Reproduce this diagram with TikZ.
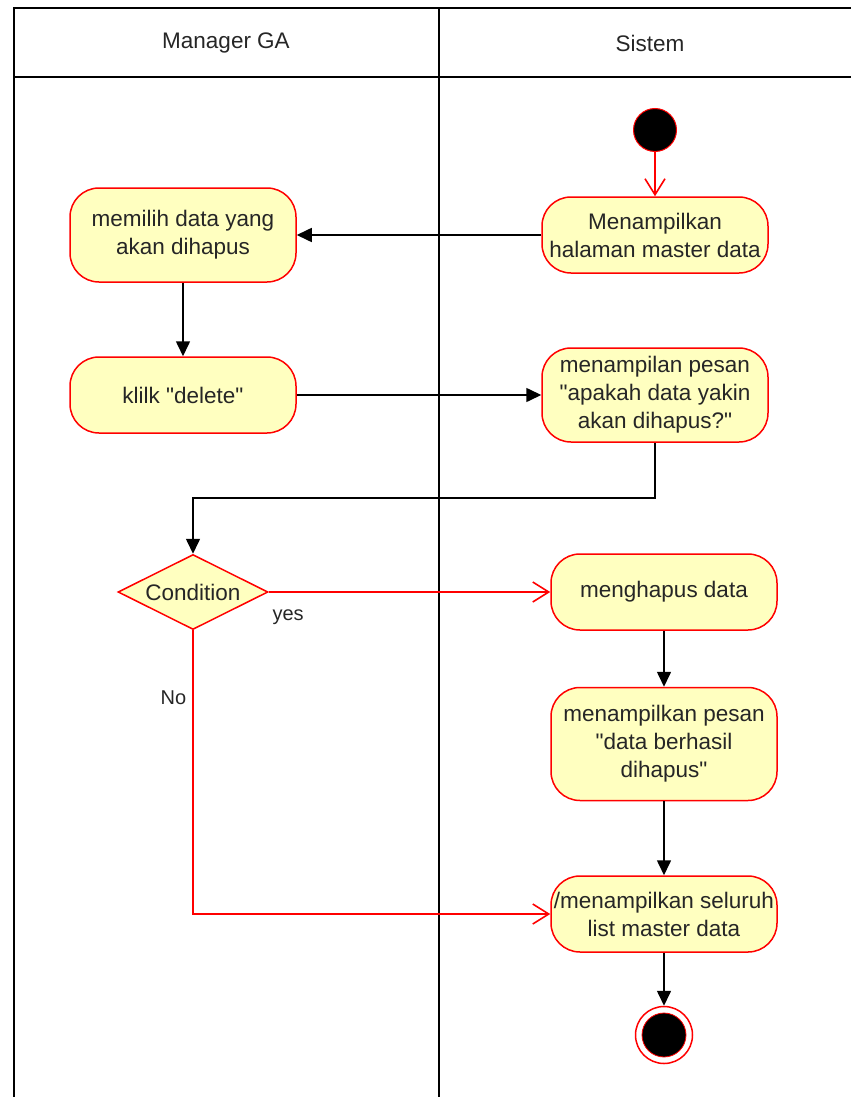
\documentclass[tikz,border=0pt]{standalone}
\usepackage{fontspec}
\setmainfont{Liberation Sans}
\usetikzlibrary{arrows.meta,shapes.geometric}
\definecolor{actfill}{HTML}{FFFFC0}
\definecolor{txt}{HTML}{262626}
\tikzset{
  act/.style={draw=red, fill=actfill, line width=1.5pt, rounded corners=29pt,
    minimum width=226pt, minimum height=76pt, align=center, inner sep=0pt,
    text=txt, font=\fontsize{22.5}{28}\selectfont},
  cond/.style={diamond, aspect=2, draw=red, fill=actfill, line width=1.5pt,
    minimum width=150pt, minimum height=75pt, inner sep=0pt,
    text=txt, font=\fontsize{22.5}{28}\selectfont},
  blk/.style={draw=black, line width=1.6pt, -{Triangle[length=15pt,width=14pt]}},
  rd/.style={draw=red, line width=1.6pt, -{Straight Barb[length=16pt,width=20pt]}},
  lbl/.style={text=txt, font=\fontsize{20}{24}\selectfont, inner sep=2pt},
  lane/.style={draw=black, line width=1.6pt}
}
\begin{document}
\begin{tikzpicture}[x=1pt,y=-1pt]
\useasboundingbox (0,0) rectangle (851,1097);
%swimlanes
\draw[lane] (14,1097) -- (14,8) -- (851,8);
\draw[lane] (14,77) -- (851,77);
\draw[lane] (439,8) -- (439,1097);
\node[text=txt, font=\fontsize{22.5}{28}\selectfont] (laneA) at (226,43) {Manager GA};
\node[text=txt, font=\fontsize{22.5}{28}\selectfont] (laneB) at (650,43) {Sistem};
%start
\node[circle, draw=red, fill=black, line width=1pt, minimum size=43pt, inner sep=0pt] (start) at (655,130) {};
%actions
\node[act] (tampil) at (655,235) {Menampilkan\\halaman master data};
\node[act, minimum height=94pt] (pilih) at (183,235) {memilih data yang\\akan dihapus};
\node[act] (klik) at (183,395) {klilk \textquotedbl delete\textquotedbl};
\node[act, minimum height=94pt] (pesan) at (655,395) {menampilan pesan\\\textquotedbl apakah data yakin\\akan dihapus?\textquotedbl};
\node[cond] (kond) at (193,592) {Condition};
\node[act] (hapus) at (664,592) {menghapus data};
\node[act, minimum height=113pt] (berhasil) at (664,744) {menampilkan pesan\\\textquotedbl data berhasil\\dihapus\textquotedbl};
\node[act] (list) at (664,914) {/menampilkan seluruh\\list master data};
%end
\node[circle, draw=red, fill=white, line width=1.5pt, minimum size=57pt, inner sep=0pt] (end) at (664,1035) {};
\node[circle, draw=red, fill=black, line width=0.8pt, minimum size=44pt, inner sep=0pt] (endin) at (end) {};
%flows
\draw[rd] (start) -- (tampil);
\draw[blk] (tampil) -- (pilih);
\draw[blk] (pilih) -- (klik);
\draw[blk] (klik) -- (pesan);
\draw[blk] (pesan.south) -- ++(0,55) -| (kond.north);
\draw[rd] (kond.east) -- node[lbl, at start, anchor=north west, xshift=1pt, yshift=-15pt] {yes} (hapus.west);
\draw[rd] (kond.south) |- node[lbl, pos=0.118, left, xshift=-4pt] {No} (list.west);
\draw[blk] (hapus) -- (berhasil);
\draw[blk] (berhasil) -- (list);
\draw[blk] (list) -- (end);
\end{tikzpicture}
\end{document}
